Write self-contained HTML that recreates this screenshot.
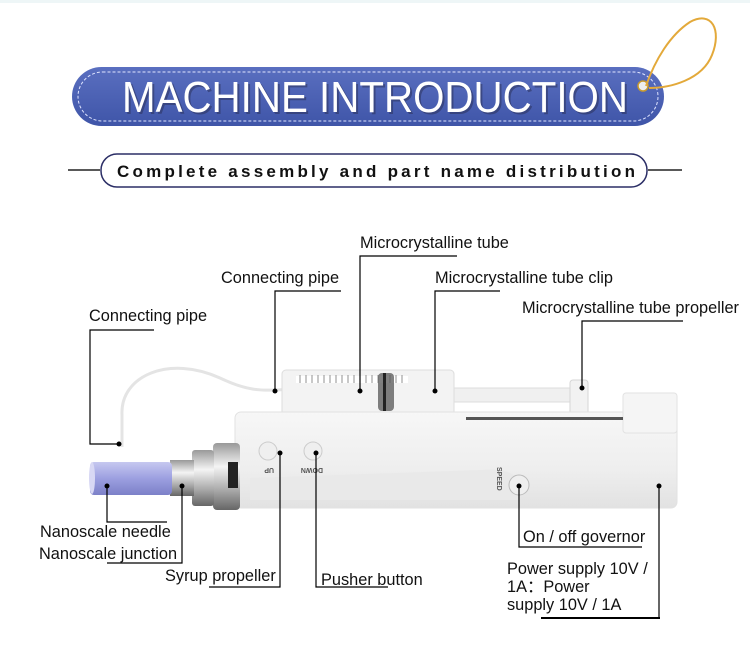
<!DOCTYPE html>
<html><head><meta charset="utf-8"><style>
html,body{margin:0;padding:0;background:#fff;}
body{width:750px;height:646px;position:relative;overflow:hidden;font-family:"Liberation Sans",Arial,sans-serif;}
.t{position:absolute;font-size:16.5px;color:#111;white-space:nowrap;line-height:18px;transform:scaleX(0.99);transform-origin:left;}
</style></head><body>
<div style="position:absolute;left:0;top:0;width:750px;height:3px;background:#eef6f7"></div>
<svg width="750" height="646" style="position:absolute;left:0;top:0">
<defs>
<linearGradient id="bl" x1="0" y1="0" x2="0" y2="1"><stop offset="0" stop-color="#5a6fc0"/><stop offset="1" stop-color="#3f55a8"/></linearGradient>
<linearGradient id="body" x1="0" y1="0" x2="0" y2="1"><stop offset="0" stop-color="#f7f7f7"/><stop offset="0.6" stop-color="#eeeeee"/><stop offset="1" stop-color="#e2e2e2"/></linearGradient>
<linearGradient id="sil" x1="0" y1="0" x2="0" y2="1"><stop offset="0" stop-color="#999"/><stop offset="0.35" stop-color="#f4f4f4"/><stop offset="0.7" stop-color="#aaa"/><stop offset="1" stop-color="#666"/></linearGradient>
<linearGradient id="blu" x1="0" y1="0" x2="0" y2="1"><stop offset="0" stop-color="#c6c8f0"/><stop offset="0.5" stop-color="#9c9fe0"/><stop offset="1" stop-color="#7c80c8"/></linearGradient>
</defs>
<rect x="72" y="67" width="592" height="59" rx="29.5" fill="url(#bl)"/>
<rect x="78" y="72" width="580" height="49" rx="24.5" fill="none" stroke="#dfe4ff" stroke-width="1" stroke-dasharray="3,2"/>
<circle cx="643" cy="86" r="5" fill="#eee" stroke="#c89a2e" stroke-width="1.5"/>
<path d="M646 86 C 655 60, 670 35, 690 22 C 712 10, 722 30, 712 55 C 702 80, 670 88, 649 88" fill="none" stroke="#e3a93a" stroke-width="2"/>
<text x="377" y="114" text-anchor="middle" font-family="Liberation Sans,Arial,sans-serif" font-size="44" fill="#2a2f55" opacity="0.5" textLength="506" lengthAdjust="spacingAndGlyphs">MACHINE INTRODUCTION</text>
<text x="375" y="112" text-anchor="middle" font-family="Liberation Sans,Arial,sans-serif" font-size="44" fill="#fff" textLength="506" lengthAdjust="spacingAndGlyphs">MACHINE INTRODUCTION</text>
<line x1="68" y1="170" x2="100" y2="170" stroke="#222" stroke-width="1.5"/>
<line x1="648" y1="170" x2="682" y2="170" stroke="#222" stroke-width="1.5"/>
<rect x="101" y="154" width="546" height="33" rx="16" fill="#fff" stroke="#2b2e66" stroke-width="1.5"/>
<text x="376" y="177" text-anchor="middle" font-family="Liberation Sans,Arial,sans-serif" font-weight="bold" font-size="17" fill="#111" textLength="518" lengthAdjust="spacing">Complete assembly and part name distribution</text>

<path d="M122 447 L122 415 C120 375 170 355 220 378 C245 390 260 392 290 389" fill="none" stroke="#e4e4e4" stroke-width="3"/>
<rect x="282" y="370" width="172" height="46" rx="4" fill="#f3f3f3" stroke="#ddd"/>
<rect x="296" y="376" width="112" height="7" fill="#fff"/>
<g stroke="#777" stroke-width="0.8">
<line x1="300" y1="375" x2="300" y2="383"/><line x1="306" y1="375" x2="306" y2="383"/><line x1="312" y1="375" x2="312" y2="383"/><line x1="318" y1="375" x2="318" y2="383"/><line x1="324" y1="375" x2="324" y2="383"/><line x1="330" y1="375" x2="330" y2="383"/><line x1="336" y1="375" x2="336" y2="383"/><line x1="342" y1="375" x2="342" y2="383"/><line x1="348" y1="375" x2="348" y2="383"/><line x1="354" y1="375" x2="354" y2="383"/><line x1="360" y1="375" x2="360" y2="383"/><line x1="366" y1="375" x2="366" y2="383"/><line x1="372" y1="375" x2="372" y2="383"/><line x1="378" y1="375" x2="378" y2="383"/><line x1="384" y1="375" x2="384" y2="383"/><line x1="390" y1="375" x2="390" y2="383"/><line x1="396" y1="375" x2="396" y2="383"/><line x1="402" y1="375" x2="402" y2="383"/>
</g>
<rect x="378" y="373" width="16" height="38" rx="4" fill="#555" opacity="0.75"/>
<rect x="383" y="373" width="3" height="38" fill="#222"/>
<rect x="454" y="388" width="130" height="14" fill="#f0f0f0" stroke="#ddd"/>
<rect x="570" y="380" width="18" height="42" rx="3" fill="#f2f2f2" stroke="#d6d6d6"/>
<rect x="235" y="412" width="442" height="96" rx="6" fill="url(#body)" stroke="#e2e2e2"/>
<rect x="623" y="393" width="54" height="40" rx="3" fill="#f5f5f5" stroke="#e2e2e2"/>
<rect x="466" y="417" width="157" height="3" fill="#555"/>
<path d="M250 478 L480 470 C510 468 520 475 520 490 L520 500 L250 500 Z" fill="#e9e9e9"/>
<circle cx="268" cy="451" r="9" fill="#efefef" stroke="#ccc"/>
<circle cx="313" cy="451" r="9" fill="#efefef" stroke="#ccc"/>
<circle cx="519" cy="485" r="10" fill="#efefef" stroke="#bbb"/>
<text x="262" y="464" font-size="7" fill="#555" font-weight="bold" transform="rotate(180 268 466)">UP</text>
<text x="303" y="464" font-size="7" fill="#555" font-weight="bold" transform="rotate(180 313 466)">DOWN</text>
<text x="494" y="470" font-size="7" fill="#555" font-weight="bold" transform="rotate(90 497 470)">SPEED</text>
<rect x="213" y="443" width="27" height="67" rx="4" fill="url(#sil)"/>
<rect x="228" y="462" width="10" height="26" fill="#222"/>
<rect x="192" y="450" width="22" height="56" rx="3" fill="url(#sil)"/>
<rect x="170" y="460" width="24" height="36" fill="url(#sil)"/>
<rect x="90" y="462" width="82" height="33" rx="4" fill="url(#blu)"/>
<ellipse cx="92" cy="478" rx="3" ry="16" fill="#d8d8f4"/>
<g fill="none" stroke="#000" stroke-width="1.2">
<polyline points="154,330 90,330 90,444 119,444"/>
<polyline points="341,291 275,291 275,391"/>
<polyline points="457,256 360,256 360,391"/>
<polyline points="500,291 435,291 435,391"/>
<polyline points="683,321 582,321 582,388"/>
<polyline points="107,486 107,522 167,522"/>
<polyline points="182,486 182,563 107,563"/>
<polyline points="280,453 280,587 209,587"/>
<polyline points="316,453 316,587 388,587"/>
<polyline points="519,486 519,547 642,547"/>
<polyline points="659,486 659,618"/>
</g>
<line x1="541" y1="618" x2="660" y2="618" stroke="#000" stroke-width="2"/>
<g fill="#000">
<circle cx="119" cy="444" r="2.5"/><circle cx="275" cy="391" r="2.5"/><circle cx="360" cy="391" r="2.5"/><circle cx="435" cy="391" r="2.5"/><circle cx="582" cy="388" r="2.5"/>
<circle cx="107" cy="486" r="2.5"/><circle cx="182" cy="486" r="2.5"/><circle cx="280" cy="453" r="2.5"/><circle cx="316" cy="453" r="2.5"/><circle cx="519" cy="486" r="2.5"/><circle cx="659" cy="486" r="2.5"/>
</g>
</svg>
<div class="t" style="left:89px;top:307px">Connecting pipe</div>
<div class="t" style="left:221px;top:269px">Connecting pipe</div>
<div class="t" style="left:360px;top:234px">Microcrystalline tube</div>
<div class="t" style="left:435px;top:269px">Microcrystalline tube clip</div>
<div class="t" style="left:522px;top:299px">Microcrystalline tube propeller</div>
<div class="t" style="left:40px;top:523px">Nanoscale needle</div>
<div class="t" style="left:39px;top:545px">Nanoscale junction</div>
<div class="t" style="left:165px;top:567px">Syrup propeller</div>
<div class="t" style="left:321px;top:571px">Pusher button</div>
<div class="t" style="left:523px;top:528px">On / off governor</div>
<div class="t" style="left:507px;top:560px;line-height:18px">Power supply 10V /<br>1A：Power<br>supply 10V / 1A</div>
</body></html>
